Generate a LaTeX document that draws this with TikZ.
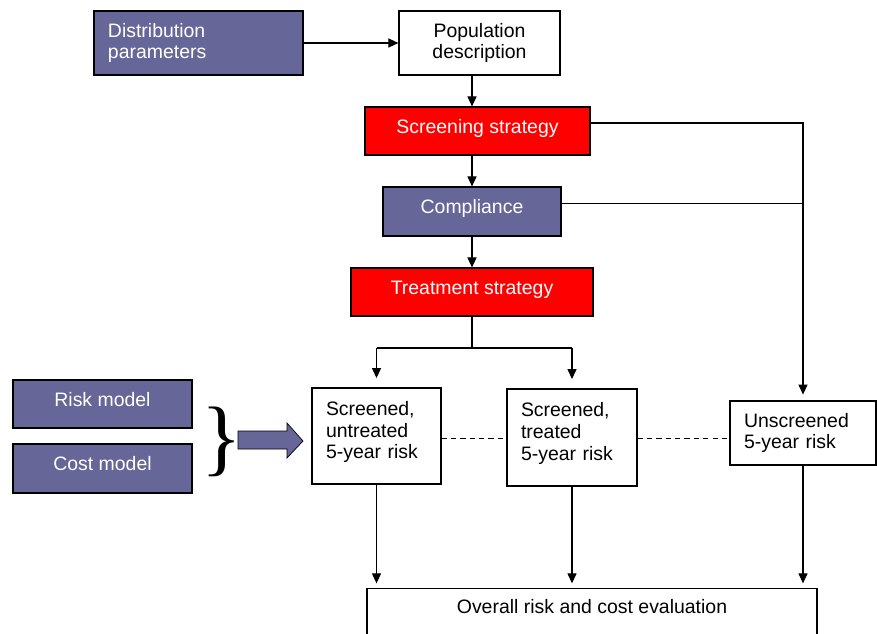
\documentclass[tikz,border=0pt]{standalone}
\usepackage{fontspec}
\setmainfont{Liberation Sans}
\newfontfamily\bracefont{Liberation Serif}
\usetikzlibrary{arrows.meta}
\definecolor{slate}{RGB}{102,102,153}
\newcommand{\lastlift}{\rule[-10pt]{0pt}{0pt}}
\begin{document}
\begin{tikzpicture}[x=0.03cm,y=-0.03cm,
   font=\fontsize{16.6}{18.6}\selectfont,
   box/.style={draw=black,line width=1pt,inner sep=0pt,align=center},
   oneline/.style={text height=12pt,text depth=8pt},
   bluebox/.style={box,fill=slate,text=white},
   redbox/.style={box,fill=red,text=white},
   arr/.style={-{Triangle[length=8.5pt,width=7.7pt]},line width=0.9pt},
   link/.style={line width=0.9pt},
   dotline/.style={line width=0.8pt,dash pattern=on 4.5pt off 3.5pt}]
   \useasboundingbox (0,0) rectangle (877,633);
   \clip (0,0) rectangle (877,633);

   \node[bluebox,minimum width=6.27cm,minimum height=1.92cm,
   text width=5.43cm,align=left] (dist) at (198.5,43) {Distribution\\parameters};
   \node[box,minimum width=4.83cm,minimum height=1.92cm]
   (pop) at (479.5,43) {Population\\description};
   \node[redbox,oneline,minimum width=6.75cm,minimum height=1.44cm]
   (screen) at (477.5,131) {Screening strategy};
   \node[bluebox,oneline,minimum width=5.34cm,minimum height=1.47cm]
   (comp) at (472,211.5) {Compliance};
   \node[redbox,oneline,minimum width=7.26cm,minimum height=1.44cm]
   (treat) at (472,292) {Treatment strategy};

   \node[box,minimum width=3.87cm,minimum height=2.88cm,text width=3.03cm,
   align=left] (untr) at (376.5,436) {Screened,\\untreated\\5-year risk\lastlift};
   \node[box,minimum width=3.9cm,minimum height=2.91cm,text width=3.06cm,
   align=left] (trt) at (572,437.5) {Screened,\\treated\\5-year risk\lastlift};
   \node[box,minimum width=4.38cm,minimum height=1.92cm,text width=3.54cm,
   align=left] (unscr) at (803,433) {Unscreened\\5-year risk};

   \node[bluebox,oneline,minimum width=5.37cm,minimum height=1.44cm]
   (risk) at (102.5,404) {Risk model};
   \node[bluebox,oneline,minimum width=5.37cm,minimum height=1.47cm]
   (cost) at (102.5,468.5) {Cost model};
   \node[font=\bracefont\fontsize{72}{72}\selectfont,inner sep=0pt]
   (brace) at (221.5,441.5) {\}};
   \draw[fill=slate,line width=0.6pt] (238,431) -- (287,431) -- (287,423)
   -- (303,441) -- (287,458) -- (287,449) -- (238,449) -- cycle;

   \node[box,anchor=north,minimum width=13.5cm,text depth=1.6cm,
   inner ysep=0.32cm] (eval) at (592,588) {Overall risk and cost evaluation};

   \draw[arr] (dist) -- (pop);
   \draw[arr] (pop.south -| comp.north) -- (screen.north -| comp.north);
   \draw[arr] (screen.south -| comp.north) -- (comp.north);
   \draw[arr] (comp) -- (treat);

   \coordinate (split) at (472,348);
   \draw[link] (treat) -- (split);
   \draw[link] (split -| untr.north) -- (split -| trt.north);
   \draw[arr,shorten >=8pt] (split -| untr.north) -- (untr);
   \draw[arr,shorten >=8pt] (split -| trt.north) -- (trt);

   \draw[arr,shorten >=5pt] ([yshift=0.24cm]screen.east) -| (unscr);
   \draw[link] ([yshift=0.25cm]comp.east) -- ([yshift=0.25cm]comp.east -| unscr.north);

   \draw[dotline] ([yshift=-0.08cm]untr.east) -- ([yshift=-0.08cm]untr.east -| trt.west);
   \draw[dotline] ([yshift=-0.04cm]trt.east) -- ([yshift=-0.04cm]trt.east -| unscr.west);

   \draw[arr,shorten >=4pt] (untr) -- (untr |- eval.north);
   \draw[arr,shorten >=4pt] (trt) -- (trt |- eval.north);
   \draw[arr,shorten >=4pt] (unscr) -- (unscr |- eval.north);
\end{tikzpicture}
\end{document}
